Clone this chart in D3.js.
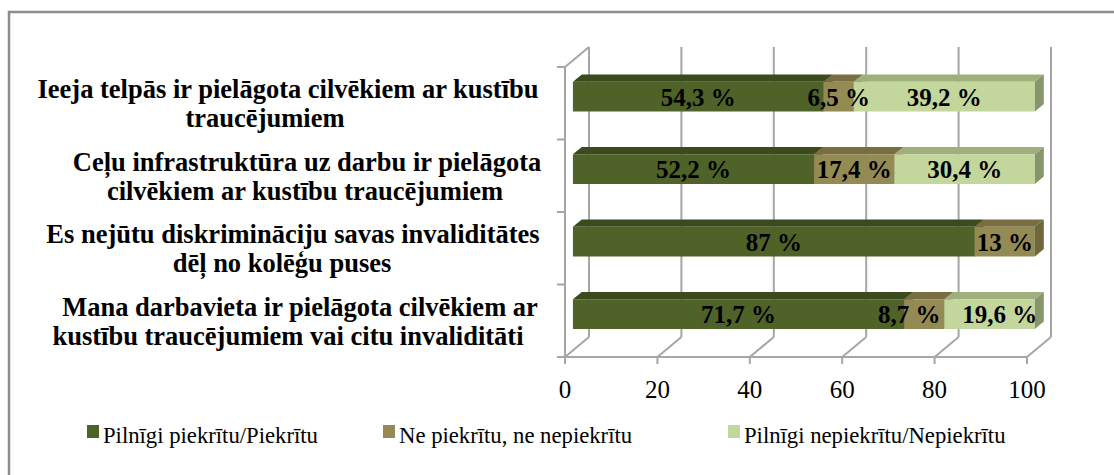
<!DOCTYPE html>
<html>
<head>
<meta charset="utf-8">
<script src="https://cdn.jsdelivr.net/npm/d3@7"></script>
<style>
  body { margin: 0; background: #fff; }
  svg { display: block; }
  svg text { font-family: "Liberation Serif", "Times New Roman", Times, serif; }
</style>
</head>
<body>
<svg id="chart"></svg>
<script>
// categories (top to bottom), split into the lines shown in the chart
const categories = [
  ["Ieeja telpās ir pielāgota cilvēkiem ar kustību", "traucējumiem"],
  ["Ceļu infrastruktūra uz darbu ir pielāgota", "cilvēkiem ar kustību traucējumiem"],
  ["Es nejūtu diskrimināciju savas invaliditātes", "dēļ no kolēģu puses"],
  ["Mana darbavieta ir pielāgota cilvēkiem ar", "kustību traucējumiem vai citu invaliditāti"]
];
const seriesNames = ["Pilnīgi piekrītu/Piekrītu", "Ne piekrītu, ne nepiekrītu", "Pilnīgi nepiekrītu/Nepiekrītu"];
const agree = [54.3, 52.2, 87, 71.7];
const neutral = [6.5, 17.4, 13, 8.7];
const disagree = [39.2, 30.4, 0, 19.6];
const xTicks = [0, 20, 40, 60, 80, 100];

// colours: front, top, side for each series
const colors = [
  { front: "#4f6228", top: "#3c4b1e", side: "#3a481c" },
  { front: "#948a54", top: "#786e42", side: "#6f663c" },
  { front: "#c3d69b", top: "#a0b07c", side: "#86956b" }
];

const W = 1114, H = 475;
const svg = d3.select("#chart").attr("width", W).attr("height", H);

// outer frame (continues past the right and bottom edges)
svg.append("path")
  .attr("d", `M9,${H + 5} L9,12 L${W + 5},12`)
  .attr("fill", "none")
  .attr("stroke", "#8c8c8c")
  .attr("stroke-width", 2.5);

// front plane scales
const x = d3.scaleLinear().domain([0, 100]).range([565, 1027]);
const y = d3.scaleBand().domain(d3.range(categories.length)).range([67, 357]);
const depth = [24, -20]; // full depth offset of the 3D box

const P = (px, py, d) => [px + d * depth[0], py + d * depth[1]];
const poly = pts => "M" + pts.map(p => p.join(",")).join("L") + "Z";

const grid = svg.append("g").attr("stroke", "#a6a6a6").attr("stroke-width", 2).attr("fill", "none");

// back wall gridlines
xTicks.forEach(t => {
  const top = P(x(t), 67, 1), bot = P(x(t), 357, 1);
  grid.append("line").attr("x1", top[0]).attr("y1", top[1]).attr("x2", bot[0]).attr("y2", bot[1]);
  // floor diagonals
  grid.append("line").attr("x1", x(t)).attr("y1", 357).attr("x2", bot[0]).attr("y2", bot[1]);
  // tick marks below the floor
  grid.append("line").attr("x1", x(t)).attr("y1", 357).attr("x2", x(t)).attr("y2", 364);
});
// front floor line
grid.append("line").attr("x1", x(0) - 8).attr("y1", 357).attr("x2", x(100)).attr("y2", 357);
// left wall
grid.append("line").attr("x1", x(0)).attr("y1", 67).attr("x2", x(0)).attr("y2", 357);
const lt = P(x(0), 67, 1);
grid.append("line").attr("x1", x(0)).attr("y1", 67).attr("x2", lt[0]).attr("y2", lt[1]);
// category ticks on the left wall
d3.range(categories.length + 1).forEach(i => {
  const yy = i < categories.length ? y(i) : 357;
  grid.append("line").attr("x1", x(0) - 8).attr("y1", yy).attr("x2", x(0)).attr("y2", yy);
});

// x tick labels
svg.append("g").selectAll("text").data(xTicks).join("text")
  .attr("x", d => x(d))
  .attr("y", 398)
  .attr("text-anchor", "middle")
  .attr("font-size", 25)
  .attr("fill", "#000")
  .text(d => d);

// bars
const series = [agree, neutral, disagree];
const d0 = 0.33, d1 = 0.7;
const barH = y.bandwidth() * 0.41;
const bars = svg.append("g");
const labelNudge = [[0, 0, 0], [0, 0, 0], [0, 0, 0], [0, -15, 10]];
const labels = [];

categories.forEach((c, i) => {
  const cy = y(i) + y.bandwidth() / 2;
  const yT = cy - barH / 2, yB = cy + barH / 2;
  let acc = 0;
  series.forEach((s, k) => {
    const v = s[i];
    if (v <= 0) return;
    const a = acc, b = acc + v;
    acc = b;
    const xa = x(a), xb = x(b);
    const fTL = P(xa, yT, d0), fTR = P(xb, yT, d0), fBR = P(xb, yB, d0), fBL = P(xa, yB, d0);
    const bTL = P(xa, yT, d1), bTR = P(xb, yT, d1), bBR = P(xb, yB, d1);
    bars.append("path").attr("d", poly([fTL, fTR, bTR, bTL])).attr("fill", colors[k].top);
    bars.append("path").attr("d", poly([fTL, fTR, fBR, fBL])).attr("fill", colors[k].front);
    bars.append("path").attr("d", poly([fTR, bTR, bBR, fBR])).attr("fill", colors[k].side);
    const m = P(x((a + b) / 2), cy, d0);
    labels.push({ x: m[0] + labelNudge[i][k], y: m[1] + 9, t: String(v).replace(".", ",") + " %" });
  });
});

svg.append("g").selectAll("text").data(labels).join("text")
  .attr("x", d => d.x)
  .attr("y", d => d.y)
  .attr("text-anchor", "middle")
  .attr("font-weight", "bold")
  .attr("font-size", 25)
  .attr("fill", "#000")
  .text(d => d.t);

// category labels; horizontal centre of each line as laid out in the chart
const catLineCenters = [[288, 265], [307, 305], [293, 282], [300, 288]];
const catG = svg.append("g")
  .attr("font-weight", "bold")
  .attr("font-size", 26.5)
  .attr("fill", "#000");
categories.forEach((lines, i) => {
  const cy = y(i) + y.bandwidth() / 2 + 1.5;
  const t = catG.append("text").attr("text-anchor", "middle");
  lines.forEach((ln, j) => t.append("tspan")
    .attr("x", catLineCenters[i][j])
    .attr("y", cy - 14.5 * (lines.length - 1) + 29 * j + 8)
    .text(ln));
});

// legend
const legendX = [87, 383, 728];
const lg = svg.append("g");
seriesNames.forEach((n, k) => {
  lg.append("rect").attr("x", legendX[k]).attr("y", 425).attr("width", 12).attr("height", 13).attr("fill", colors[k].front);
  lg.append("text").attr("x", legendX[k] + 16).attr("y", 443)
    .attr("font-size", 22.7)
    .attr("fill", "#000")
    .text(n);
});
</script>
</body>
</html>
